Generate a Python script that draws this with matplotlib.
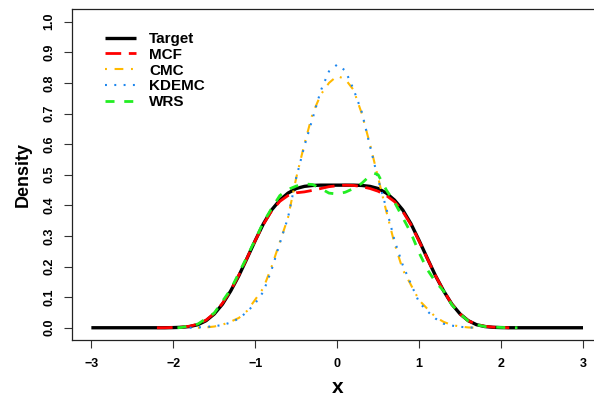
import numpy as np
import matplotlib
matplotlib.use("Agg")
from matplotlib import pyplot as plt

plt.rcParams['font.family'] = ['Liberation Sans', 'DejaVu Sans']
plt.rcParams['lines.scale_dashes'] = False

# ---------------------------------------
# data
# ---------------------------------------
target_x = np.round(np.arange(-3.0, 3.01, 0.1), 2)
target_half = [0.466, 0.466, 0.466, 0.465, 0.462, 0.455, 0.440, 0.417, 0.385, 0.340,
               0.285, 0.227, 0.170, 0.120, 0.077, 0.045, 0.023, 0.010, 0.004, 0.0015,
               0.0005, 0.0, 0.0, 0.0, 0.0, 0.0, 0.0, 0.0, 0.0, 0.0, 0.0]
target_y = target_half[::-1] + target_half[1:]

mcf_x = np.round(np.arange(-2.2, 2.11, 0.1), 2)
mcf_y = [0.0, 0.0, 0.001, 0.002, 0.005, 0.012, 0.025, 0.047, 0.080, 0.122,
         0.172, 0.228, 0.285, 0.338, 0.382, 0.413, 0.432, 0.441, 0.444, 0.449,
         0.455, 0.461, 0.464, 0.466, 0.465, 0.461, 0.455, 0.446, 0.432, 0.412,
         0.380, 0.337, 0.283, 0.226, 0.170, 0.120, 0.077, 0.045, 0.023, 0.011,
         0.005, 0.002, 0.001, 0.0]

cmc_x = np.round(np.arange(-1.7, 1.71, 0.1), 2)
cmc_y = [0.0, 0.001, 0.004, 0.010, 0.020, 0.032, 0.055, 0.092, 0.130, 0.200,
         0.280, 0.360, 0.490, 0.600, 0.700, 0.762, 0.800, 0.823, 0.812, 0.777,
         0.700, 0.600, 0.490, 0.380, 0.275, 0.190, 0.140, 0.090, 0.062, 0.035,
         0.019, 0.009, 0.004, 0.001, 0.0]

kdemc_x = np.round(np.arange(-1.8, 1.71, 0.1), 2)
kdemc_y = [0.0, 0.001, 0.003, 0.005, 0.009, 0.017, 0.030, 0.052, 0.080, 0.118,
           0.190, 0.276, 0.360, 0.490, 0.594, 0.684, 0.775, 0.838, 0.860, 0.840,
           0.779, 0.705, 0.594, 0.485, 0.390, 0.285, 0.205, 0.143, 0.083, 0.054,
           0.030, 0.013, 0.007, 0.003, 0.001, 0.0]

wrs_x = [-1.95, -1.9, -1.7, -1.5, -1.3, -1.1, -0.9, -0.8, -0.7, -0.6, -0.5, -0.4,
         -0.3, -0.2, -0.1, 0.0, 0.1, 0.2, 0.3, 0.4, 0.45, 0.5, 0.55, 0.6, 0.7,
         0.8, 0.9, 1.0, 1.1, 1.2, 1.3, 1.4, 1.5, 1.6, 1.7, 1.8, 2.0, 2.2]
wrs_y = [0.0, 0.001, 0.012, 0.048, 0.125, 0.232, 0.345, 0.390, 0.432, 0.452, 0.463, 0.470,
         0.468, 0.455, 0.440, 0.437, 0.443, 0.455, 0.472, 0.497, 0.505, 0.500, 0.475, 0.450, 0.410,
         0.360, 0.310, 0.245, 0.190, 0.150, 0.120, 0.075, 0.045, 0.022, 0.010, 0.004, 0.001, 0.0]

labels = ['Target', 'MCF', 'CMC', 'KDEMC', 'WRS']

# ---------------------------------------
# plot
# ---------------------------------------
fig = plt.figure(figsize=(5.94, 3.99), dpi=100)
ax = fig.add_axes([0.1207, 0.1479, 0.8939, 0.8283])

ax.plot(target_x, target_y, color='black', lw=2.4, solid_capstyle='butt', label=labels[0])
ax.plot(mcf_x, mcf_y, color='#FF0000', lw=2.0, dashes=(11.3, 5.5), dash_capstyle='butt', label=labels[1])
ax.plot(cmc_x, cmc_y, color='#FFB900', lw=1.5, dashes=(1.4, 5.5, 6.3, 5.5), dash_capstyle='butt', label=labels[2])
ax.plot(kdemc_x, kdemc_y, color='#1C86EE', lw=1.5, dashes=(1.4, 5.3), dash_capstyle='butt', label=labels[3])
ax.plot(wrs_x, wrs_y, color='#22EE22', lw=2.0, dashes=(6.5, 7.0), dash_capstyle='butt', label=labels[4])

ax.set_xlim(-3.24, 3.24)
ax.set_ylim(-0.04, 1.04)
ax.set_xticks(range(-3, 4))
ax.set_yticks(np.arange(0, 1.01, 0.1))
ax.set_yticklabels(['%.1f' % v for v in np.arange(0, 1.01, 0.1)], rotation=90, va='center')
ax.tick_params(direction='out', length=6, width=0.8, labelsize=9, color='#333333')
ax.tick_params(axis='x', pad=7)
ax.tick_params(axis='y', pad=6)
for lab in ax.get_xticklabels() + ax.get_yticklabels():
    lab.set_fontweight('bold')
for sp in ax.spines.values():
    sp.set_linewidth(0.9)
    sp.set_color('#222222')
ax.spines['right'].set_visible(False)

ax.set_xlabel('x', fontsize=15, fontweight='bold', labelpad=6)
ax.set_ylabel('Density', fontsize=13, fontweight='bold', labelpad=8)

leg = ax.legend(loc='upper left', bbox_to_anchor=(105 / 594, 1 - 32 / 399), bbox_transform=fig.transFigure,
                frameon=False, prop={'weight': 'bold', 'size': 11}, handlelength=2.0,
                handletextpad=0.9, labelspacing=0.12, borderpad=0, borderaxespad=0)

fig.savefig('out.png', dpi=100)
